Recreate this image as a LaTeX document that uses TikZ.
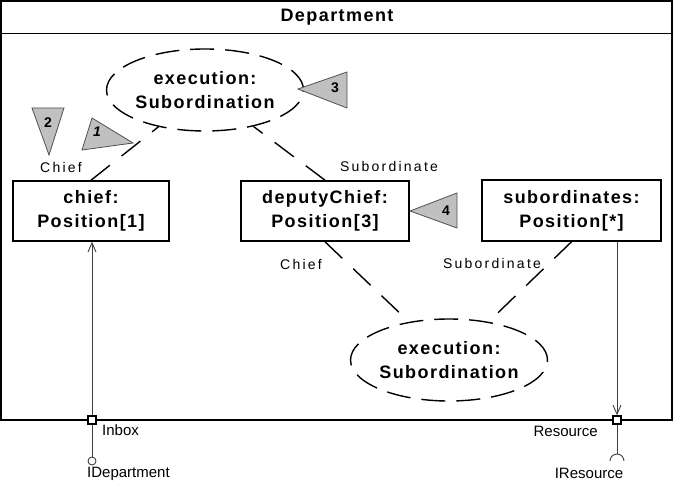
\documentclass[tikz,border=0pt]{standalone}
\usepackage{fontspec}
\setmainfont{Liberation Sans}
\newfontfamily\bfx[LetterSpace=8]{Liberation Sans Bold}
\newfontfamily\lblx[LetterSpace=16]{Liberation Sans}
\newfontfamily\portx{Liberation Sans}
\usetikzlibrary{shapes.geometric,arrows.meta}
\definecolor{trifill}{HTML}{C0C0C0}
\definecolor{triline}{HTML}{505050}
\definecolor{vline}{HTML}{404040}
\tikzset{
  partbox/.style={draw, line width=1.6pt, rectangle, inner sep=0pt, align=center,
    font=\bfx\fontsize{18}{24}\selectfont},
  usebub/.style={draw, ellipse, line width=1.4pt, dash pattern=on 24pt off 11pt,
    inner sep=0pt, align=center, minimum width=184pt, minimum height=82pt,
    font=\bfx\fontsize{18}{24}\selectfont},
  conn/.style={line width=1.4pt, dash pattern=on 24pt off 15pt},
  rolelbl/.style={font=\lblx\fontsize{14}{16}\selectfont, inner sep=0pt},
  portlbl/.style={font=\portx\fontsize{15}{17}\selectfont, inner sep=0pt},
  portbox/.style={draw, fill=white, line width=1.4pt, minimum size=8pt, inner sep=0pt},
  tri/.style={fill=trifill, draw=triline, line width=0.8pt, line join=miter},
  trinum/.style={font=\bfseries\fontsize{14}{16}\selectfont, inner sep=0pt},
  wire/.style={draw=vline, line width=0.9pt},
}
\begin{document}
\begin{tikzpicture}[x=1pt,y=-1pt]
\useasboundingbox (0,0) rectangle (674,484);
% frame
\draw[line width=1.8pt] (1,1) rectangle (672,420);
\draw[line width=1.8pt] (1,33.5) -- (672,33.5);
\node[font=\bfx\fontsize{18}{22}\selectfont, inner sep=0pt] (title) at (337,17) {Department};
% parts
\node[partbox, minimum width=156pt, minimum height=60pt] (chief) at (91,211) {chief:\\Position[1]};
\node[partbox, minimum width=168pt, minimum height=60pt] (dep) at (325,211) {deputyChief:\\Position[3]};
\node[partbox, minimum width=179pt, minimum height=61pt] (sub) at (571.5,210.5) {subordinates:\\Position[*]};
% collaboration uses
\node[usebub] (e1) at (205,90) {execution:\\Subordination};
\node[usebub] (e2) at (449,360) {execution:\\Subordination};
% connectors
\draw[conn] (chief.north) -- (e1);
\draw[conn] (dep.north) -- (e1);
\draw[conn] (dep.south) -- (e2);
\draw[conn] (sub.south) -- (e2);
% role labels
\node[rolelbl] (r1) at (61,167) {Chief};
\node[rolelbl] (r2) at (389,166) {Subordinate};
\node[rolelbl] (r3) at (301,264) {Chief};
\node[rolelbl] (r4) at (492,263) {Subordinate};
% triangles
\draw[tri] (32,108) -- (64,108) -- (49,155) -- cycle;
\node[trinum] (n2) at (48,123) {2};
\draw[tri] (92,118) -- (82,150) -- (133,143) -- cycle;
\node[trinum, font=\bfseries\itshape\fontsize{14}{16}\selectfont] (n1) at (97,132) {1};
\draw[tri] (298,89) -- (347,72) -- (347,108) -- cycle;
\node[trinum] (n3) at (335,88) {3};
\draw[tri] (410,211) -- (457,193) -- (457,228) -- cycle;
\node[trinum] (n4) at (446,211) {4};
% ports
\node[portbox] (inbox) at (92,420) {};
\node[portbox] (resport) at (617,420) {};
\draw[wire, -{Straight Barb[length=9pt,width=8pt]}] (inbox) -- (inbox |- chief.south);
\draw[wire, -{Straight Barb[length=9pt,width=8pt]}] (sub.south -| resport) -- (resport);
\node[portlbl, anchor=west] (inboxl) at (102,430) {Inbox};
\node[portlbl, anchor=east] (resl) at (598,431) {Resource};
% provided / required interfaces
\node[draw=vline, line width=0.9pt, circle, minimum size=8pt, inner sep=0pt] (ldep) at (92,461) {};
\draw[wire] (inbox) -- (ldep);
\coordinate (sock) at (617,454);
\draw[wire] (resport) -- (sock);
\draw[wire] (610,461) arc[start angle=180, end angle=0, radius=7pt];
\node[portlbl, anchor=west] (idep) at (87,474) {IDepartment};
\node[portlbl] (ires) at (589,473) {IResource};
\end{tikzpicture}
\end{document}
